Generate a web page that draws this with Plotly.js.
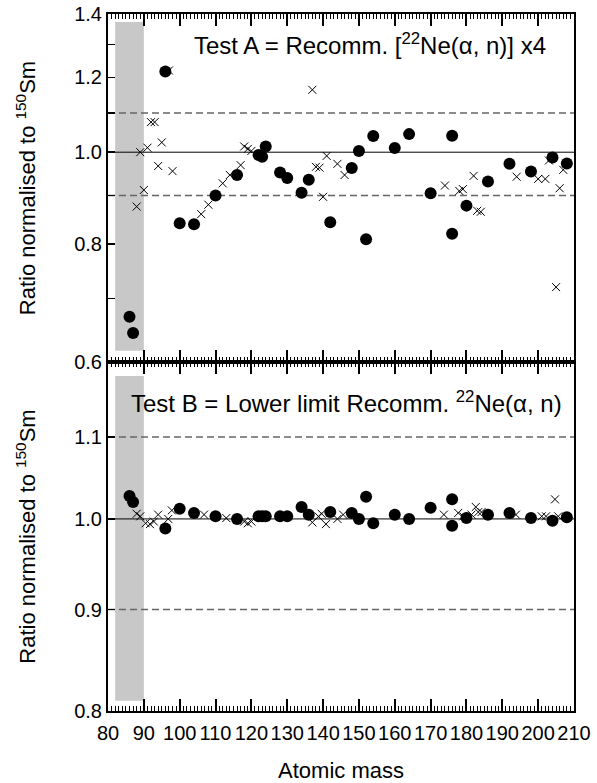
<!DOCTYPE html>
<html>
<head>
<meta charset="utf-8">
<script src="https://cdn.plot.ly/plotly-3.0.1.min.js"></script>
<style>html,body{margin:0;padding:0;background:#fff}#chart{width:597px;height:783px}</style>
</head>
<body>
<div id="chart"></div>
<script>
// ---------- data ----------
const circleMass = [86, 87, 96, 100, 104, 110, 116, 122, 123, 124, 128, 130, 134, 136, 142, 148, 150, 152, 154, 160, 164, 170, 176, 176, 180, 186, 192, 198, 204, 208];
const circleTestA = [0.670, 0.644, 1.217, 0.841, 0.839, 0.900, 0.946, 0.993, 0.989, 1.014, 0.952, 0.939, 0.906, 0.935, 0.843, 0.962, 1.003, 0.809, 1.040, 1.010, 1.045, 0.905, 1.041, 0.820, 0.878, 0.931, 0.972, 0.954, 0.987, 0.973];
const circleTestB = [1.027, 1.020, 0.989, 1.012, 1.007, 1.003, 1.000, 1.003, 1.003, 1.003, 1.003, 1.003, 1.014, 1.005, 1.008, 1.007, 1.000, 1.026, 0.995, 1.005, 1.000, 1.013, 1.023, 0.992, 1.001, 1.005, 1.007, 1.001, 0.998, 1.002];
const crossMassA = [88, 89, 90, 91, 92, 93, 94, 95, 97, 98, 106, 108, 112, 114, 117, 118, 119, 120, 137, 138, 139, 140, 141, 144, 146, 174, 178, 179, 182, 183, 184, 194, 200, 202, 203, 205, 206, 207];
const crossTestA = [0.876, 1.000, 0.912, 1.011, 1.076, 1.076, 0.967, 1.024, 1.220, 0.955, 0.860, 0.880, 0.927, 0.946, 0.969, 1.014, 1.008, 1.003, 1.164, 0.965, 0.963, 0.897, 0.991, 0.972, 0.946, 0.922, 0.910, 0.914, 0.944, 0.867, 0.865, 0.942, 0.937, 0.937, 0.980, 0.720, 0.916, 0.958];
const crossMassB = [88, 89, 90.5, 91.7, 92.8, 94, 96.8, 97.8, 106.8, 113, 118, 119, 120, 137, 138.7, 139.6, 140.8, 144, 145.6, 173.7, 177.7, 179.1, 181.4, 182.6, 183.3, 184.2, 193.8, 201, 202.2, 204.7, 205.6];
const crossTestB = [1.006, 1.003, 0.995, 0.994, 0.997, 1.005, 1.000, 1.010, 1.005, 1.001, 0.997, 0.995, 0.997, 0.996, 1.003, 1.006, 0.994, 1.000, 1.005, 1.005, 1.007, 1.003, 1.005, 1.014, 1.008, 1.008, 1.005, 1.003, 1.003, 1.023, 1.003];

const xRange = [80, 210];
const refSolid = 1.0;
const refDashed = [0.9, 1.1];
const bandMass = [82, 90];
const yTicksA = [0.6, 0.8, 1.0, 1.2, 1.4];
const yTextA  = ['0.6', '0.8', '1.0', '1.2', '1.4'];
const yMinorA = [0.7, 0.9, 1.1, 1.3];
const yAllA   = [0.6, 0.7, 0.8, 0.9, 1.0, 1.1, 1.2, 1.3, 1.4];
const yTicksB = [0.8, 0.9, 1.0, 1.1];
const yTextB  = ['0.8', '0.9', '1.0', '1.1'];

// ---------- styling ----------
const FONT = 'Liberation Sans, Arial, Helvetica, sans-serif';
const INK = '#000';
const circleMarker = {symbol: 'circle', size: 12, color: '#000'};
const crossMarker = {symbol: 'x-thin-open', size: 8, color: '#000', line: {width: 1, color: '#000'}};

function refLines(yax) {
  const t = [];
  const xa = yax === 'y2' ? 'x2' : 'x';
  t.push({x: xRange, y: [refSolid, refSolid], xaxis: xa, yaxis: yax, mode: 'lines', line: {color: '#000', width: 1}, hoverinfo: 'skip', showlegend: false});
  refDashed.forEach(v => t.push({x: xRange, y: [v, v], xaxis: xa, yaxis: yax, mode: 'lines', line: {color: '#666', width: 1.5, dash: '7px,4px'}, hoverinfo: 'skip', showlegend: false}));
  return t;
}

const data = [
  ...refLines('y2'), ...refLines('y'),
  {x: crossMassA, y: crossTestA, xaxis: 'x2', yaxis: 'y2', mode: 'markers', marker: crossMarker, showlegend: false},
  {x: circleMass, y: circleTestA, xaxis: 'x2', yaxis: 'y2', mode: 'markers', marker: circleMarker, showlegend: false},
  {x: crossMassB, y: crossTestB, xaxis: 'x', yaxis: 'y', mode: 'markers', marker: crossMarker, showlegend: false},
  {x: circleMass, y: circleTestB, xaxis: 'x', yaxis: 'y', mode: 'markers', marker: circleMarker, showlegend: false}
];

const split = 349 / 697;
const tickFont = {family: FONT, size: 20, color: '#000'};
function xCommon() {
  return {
    range: xRange.slice(), tick0: 80, dtick: 10, ticks: 'inside', ticklen: 12, tickwidth: 2, tickcolor: INK,
    minor: {dtick: 1, ticks: 'inside', ticklen: 5, tickwidth: 1, tickcolor: INK},
    showline: true, linewidth: 2, linecolor: '#000', mirror: 'ticks', showgrid: false, zeroline: false,
    tickfont: tickFont
  };
}
function yCommon() {
  return {
    type: 'log', ticks: 'inside', ticklen: 7, tickwidth: 1.5, tickcolor: INK,
    showline: true, linewidth: 2, linecolor: '#000', mirror: true, showgrid: false, zeroline: false,
    tickfont: tickFont
  };
}
function yRight(over, anchor, range, vals) {
  return {type: 'log', overlaying: over, side: 'right', anchor: anchor, range: range, tickvals: vals,
    ticks: 'inside', ticklen: 14, tickwidth: 2, tickcolor: INK, showticklabels: false,
    showline: false, showgrid: false, zeroline: false};
}
const yTitle = () => ({text: 'Ratio normalised to <sup>150</sup>Sm', font: {family: FONT, size: 22, color: '#000'}, standoff: 32});

const rangeA = [Math.log10(0.6), Math.log10(1.4)];
const rangeB = [Math.log10(0.8), Math.log10(1.2)];

const layout = {
  width: 597, height: 783,
  margin: {l: 108, r: 23, t: 14, b: 72},
  paper_bgcolor: '#fff', plot_bgcolor: 'rgba(0,0,0,0)', showlegend: false,
  xaxis: Object.assign(xCommon(), {anchor: 'y', domain: [0, 1], ticklabelstandoff: 3,
    title: {text: 'Atomic mass', font: {family: FONT, size: 22, color: '#000'}, standoff: 22}}),
  xaxis2: Object.assign(xCommon(), {anchor: 'y2', domain: [0, 1], matches: 'x', showticklabels: false}),
  yaxis: Object.assign(yCommon(), {domain: [0, split], anchor: 'x', range: rangeB, tickvals: yTicksB, ticktext: yTextB, title: yTitle()}),
  yaxis2: Object.assign(yCommon(), {domain: [split, 1], anchor: 'x2', range: rangeA, tickvals: yTicksA, ticktext: yTextA,
    minor: {tickvals: yMinorA, ticks: 'inside', ticklen: 7, tickwidth: 1.5, tickcolor: INK, showgrid: false}, title: yTitle()}),
  yaxis3: yRight('y2', 'x2', rangeA, yAllA),
  yaxis4: yRight('y', 'x', rangeB, yTicksB),
  shapes: [
    {type: 'rect', layer: 'below', xref: 'x2', yref: 'y2 domain', x0: bandMass[0], x1: bandMass[1], y0: 0.0325, y1: 0.977, fillcolor: '#c8c8c8', line: {width: 0}},
    {type: 'rect', layer: 'below', xref: 'x', yref: 'y domain', x0: bandMass[0], x1: bandMass[1], y0: 0.0295, y1: 0.96, fillcolor: '#c8c8c8', line: {width: 0}}
  ],
  annotations: [
    {text: 'Test A = Recomm. [<sup>22</sup>Ne(α, n)] x4', xref: 'paper', yref: 'paper', x: 0.562, y: 0.9565, xanchor: 'center', yanchor: 'middle', showarrow: false, font: {family: FONT, size: 24, color: '#000'}},
    {text: 'Test B = Lower limit Recomm. <sup>22</sup>Ne(α, n)', xref: 'paper', yref: 'paper', x: 0.512, y: 0.4433, xanchor: 'center', yanchor: 'middle', showarrow: false, font: {family: FONT, size: 24, color: '#000'}}
  ]
};

Plotly.newPlot('chart', data, layout, {displayModeBar: false, staticPlot: true});
</script>
</body>
</html>
